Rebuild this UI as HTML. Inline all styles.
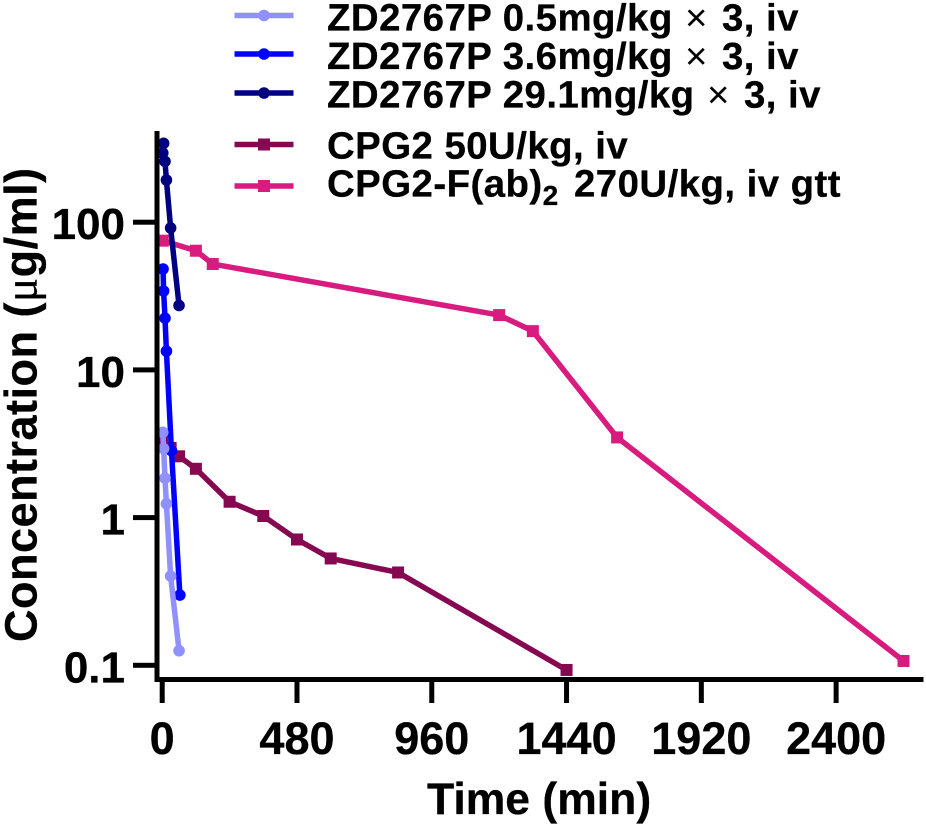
<!DOCTYPE html>
<html>
<head>
<meta charset="utf-8">
<title>Concentration vs time</title>
<style>
html,body{margin:0;padding:0;background:#fff;}
svg{display:block;}
text{font-family:"Liberation Sans",Arial,sans-serif;font-weight:700;fill:#000;stroke:#000;stroke-width:0.3px;}
#legend text{letter-spacing:0.45px;}
</style>
</head>
<body>
<svg id="chart" width="926" height="827" viewBox="0 0 926 827" xmlns="http://www.w3.org/2000/svg">
  <rect width="926" height="827" fill="#fff"/>
  <g id="marks"></g>
  <g id="axes">
    <rect x="154.5" y="131" width="5" height="551" fill="#000"/>
    <rect x="154.5" y="677" width="769" height="5" fill="#000"/>
  </g>
  <text x="36.5" y="642" font-size="45" letter-spacing="0.5" transform="rotate(-90 36.5 642)">Concentration (<tspan style="font-family:'Liberation Serif',serif;font-weight:400">μ</tspan>g/ml)</text>
  <text x="427" y="814" font-size="44.5">Time (min)</text>
  <g id="legend">
    <g>
      <line x1="234.5" x2="293.5" y1="15.5" y2="15.5" stroke="#9090ff" stroke-width="5.5"/>
      <circle cx="264" cy="15.5" r="5.8" fill="#9090ff"/>
      <text x="327" y="30.5" font-size="38.4">ZD2767P 0.5mg/kg<tspan x="685" style="font-weight:400;stroke:none;letter-spacing:0">×</tspan><tspan x="722">3, iv</tspan></text>
    </g>
    <g>
      <line x1="234.5" x2="293.5" y1="54" y2="54" stroke="#0000ff" stroke-width="5.5"/>
      <circle cx="264" cy="54" r="5.8" fill="#0000ff"/>
      <text x="327" y="69" font-size="38.4">ZD2767P 3.6mg/kg<tspan x="685" style="font-weight:400;stroke:none;letter-spacing:0">×</tspan><tspan x="722">3, iv</tspan></text>
    </g>
    <g>
      <line x1="234.5" x2="293.5" y1="93" y2="93" stroke="#000080" stroke-width="5.5"/>
      <circle cx="264" cy="93" r="5.8" fill="#000080"/>
      <text x="327" y="107.5" font-size="38.4">ZD2767P 29.1mg/kg<tspan x="707" style="font-weight:400;stroke:none;letter-spacing:0">×</tspan><tspan x="744">3, iv</tspan></text>
    </g>
    <g>
      <line x1="234.5" x2="293.5" y1="144.5" y2="144.5" stroke="#850850" stroke-width="5.5"/>
      <rect x="258" y="138.5" width="12" height="12" fill="#850850"/>
      <text x="327" y="158.3" font-size="38.4">CPG2 50U/kg, iv</text>
    </g>
    <g>
      <line x1="234.5" x2="293.5" y1="186" y2="186" stroke="#d81b7f" stroke-width="5.5"/>
      <rect x="258" y="180" width="12" height="12" fill="#d81b7f"/>
      <text x="327" y="196.7" font-size="38.4">CPG2-F(ab)<tspan font-size="28" dy="8.3">2</tspan><tspan x="574" dy="-8.3">270U/kg, iv gtt</tspan></text>
    </g>
  </g>
</svg>
<script>
const xTicks = [0, 480, 960, 1440, 1920, 2400];
const yTicks = [0.1, 1, 10, 100];
const yTickLabels = ["0.1", "1", "10", "100"];

const navyTimes = [5, 2, 10, 15, 30, 60];
const navyValues = [342, 294, 258, 193, 91.4, 27.3];
const blueTimes = [3, 5, 10, 15, 33, 63];
const blueValues = [48.2, 34.2, 22.4, 13.4, 2.84, 0.299];
const lightTimes = [2, 5, 10, 15, 30, 60];
const lightValues = [3.78, 2.93, 1.85, 1.24, 0.402, 0.1255];
const cpgTimes = [0, 30, 60, 120, 240, 360, 480, 600, 840, 1440];
const cpgValues = [3.35, 2.96, 2.6, 2.14, 1.28, 1.025, 0.711, 0.529, 0.425, 0.093];
const fabTimes = [2, 120, 180, 1200, 1320, 1620, 2640];
const fabValues = [75, 64.1, 52.1, 23.5, 18.3, 3.49, 0.107];

const SVG_NS = "http://www.w3.org/2000/svg";
const xScale = t => 162.2 + t * 0.2808;
const yScale = v => 665.3 - 147.7 * (Math.log10(v) + 1);

const axes = document.getElementById("axes");
const marks = document.getElementById("marks");

xTicks.forEach(t => {
  const tick = document.createElementNS(SVG_NS, "rect");
  tick.setAttribute("x", xScale(t) - 2.5);
  tick.setAttribute("y", 680);
  tick.setAttribute("width", 5);
  tick.setAttribute("height", 23);
  tick.setAttribute("fill", "#000");
  
  
  axes.appendChild(tick);
  const label = document.createElementNS(SVG_NS, "text");
  label.setAttribute("x", xScale(t));
  label.setAttribute("y", 754);
  label.setAttribute("font-size", 45);
  label.setAttribute("text-anchor", "middle");
  label.textContent = String(t);
  
  
  axes.appendChild(label);
});

yTicks.forEach((v, i) => {
  const tick = document.createElementNS(SVG_NS, "rect");
  tick.setAttribute("x", 133);
  tick.setAttribute("y", yScale(v) - 2.5);
  tick.setAttribute("width", 24);
  tick.setAttribute("height", 5);
  tick.setAttribute("fill", "#000");
  
  
  axes.appendChild(tick);
  const label = document.createElementNS(SVG_NS, "text");
  label.setAttribute("x", 125);
  label.setAttribute("y", yScale(v) + 17);
  label.setAttribute("font-size", 44);
  label.setAttribute("text-anchor", "end");
  label.textContent = yTickLabels[i];
  
  
  axes.appendChild(label);
});

function drawSeries(name, times, values, color, shape) {
  const group = document.createElementNS(SVG_NS, "g");
  
  
  const line = document.createElementNS(SVG_NS, "polyline");
  line.setAttribute("points", times.map((t, i) => xScale(t) + "," + yScale(values[i])).join(" "));
  line.setAttribute("fill", "none");
  line.setAttribute("stroke", color);
  line.setAttribute("stroke-width", 5.5);
  
  
  group.appendChild(line);
  times.forEach((t, i) => {
    let m;
    if (shape === "circle") {
      m = document.createElementNS(SVG_NS, "circle");
      m.setAttribute("cx", xScale(t));
      m.setAttribute("cy", yScale(values[i]));
      m.setAttribute("r", 5.8);
    } else {
      m = document.createElementNS(SVG_NS, "rect");
      m.setAttribute("x", xScale(t) - 6);
      m.setAttribute("y", yScale(values[i]) - 6);
      m.setAttribute("width", 12);
      m.setAttribute("height", 12);
    }
    m.setAttribute("fill", color);
    
    
    group.appendChild(m);
  });
  marks.appendChild(group);
}

drawSeries("series-cpg2", cpgTimes, cpgValues, "#850850", "square");
drawSeries("series-cpg2-fab2", fabTimes, fabValues, "#d81b7f", "square");
drawSeries("series-zd2767p-high", navyTimes, navyValues, "#000080", "circle");
drawSeries("series-zd2767p-mid", blueTimes, blueValues, "#0000ff", "circle");
drawSeries("series-zd2767p-low", lightTimes, lightValues, "#9090ff", "circle");
</script>
</body>
</html>
